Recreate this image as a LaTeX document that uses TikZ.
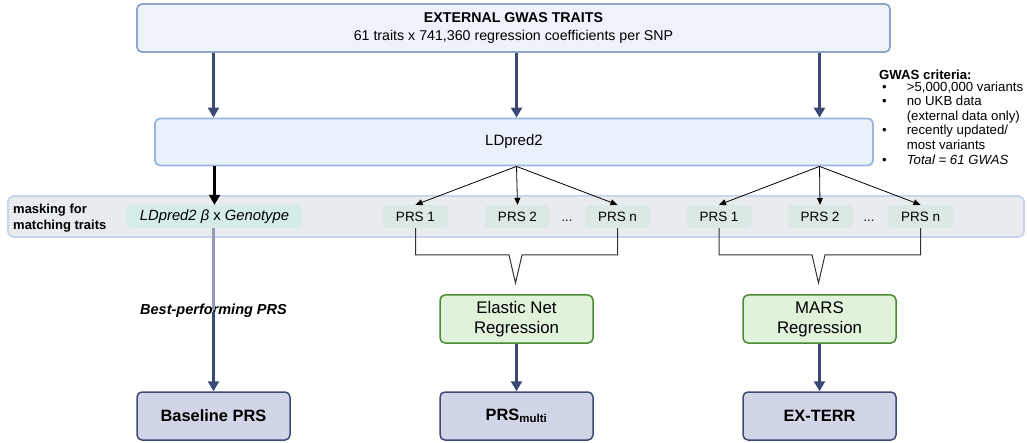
\documentclass[tikz,border=0pt]{standalone}
\usepackage{fontspec}
\setmainfont{Liberation Sans}
\usepackage{tikz}
\usetikzlibrary{arrows.meta,positioning}
\definecolor{topfill}{RGB}{238,243,251}
\definecolor{topline}{RGB}{143,164,204}
\definecolor{ldfill}{RGB}{234,241,251}
\definecolor{ldline}{RGB}{157,180,222}
\definecolor{bandfill}{RGB}{233,236,239}
\definecolor{bandline}{RGB}{200,213,236}
\definecolor{chipld}{RGB}{214,236,232}
\definecolor{chipprs}{RGB}{219,232,228}
\definecolor{regfill}{RGB}{224,242,218}
\definecolor{regline}{RGB}{74,138,53}
\definecolor{outfill}{RGB}{208,214,232}
\definecolor{outline}{RGB}{61,74,115}
\definecolor{navy}{RGB}{59,74,117}
\definecolor{brack}{RGB}{50,50,50}

\begin{document}
\begin{tikzpicture}[
    x=1pt, y=-1pt,
    bigbox/.style={rectangle, draw, rounded corners=5pt, line width=1.8pt, align=center, inner sep=0pt},
    chip/.style={rectangle, rounded corners=4pt, minimum width=65pt, minimum height=23pt, inner sep=0pt, fill=chipprs, font=\fontsize{13.5}{15}\selectfont},
    regbox/.style={rectangle, draw=regline, fill=regfill, rounded corners=5pt, line width=1.5pt, minimum width=153pt, minimum height=48pt, align=center, inner sep=0pt, font=\fontsize{16.8}{20}\selectfont},
    outbox/.style={rectangle, draw=outline, fill=outfill, rounded corners=5pt, line width=1.5pt, minimum width=153pt, minimum height=48pt, inner sep=0pt, font=\fontsize{16.4}{18}\selectfont\bfseries},
    bigarrow/.style={draw=navy, line width=2.4pt, -{Triangle[width=11pt,length=10pt]}},
    thinarrow/.style={draw=black, line width=0.8pt, -{Triangle[width=6pt,length=7pt]}},
    bracket/.style={draw=brack, line width=1pt}
]
\useasboundingbox (0,0) rectangle (1027,443);

% Nodes
\node[bigbox, draw=topline, fill=topfill, minimum width=753pt, minimum height=48pt, font=\fontsize{14.2}{17.5}\selectfont] (top) at (513.5,28)
    {\textbf{EXTERNAL GWAS TRAITS}\\
     61 traits x 741,360 regression coefficients per SNP};
\node[bigbox, draw=ldline, fill=ldfill, minimum width=718pt, minimum height=47pt, font=\fontsize{15}{17}\selectfont] (ldp) at (514,142) {LDpred2};

\node[rectangle, draw=bandline, fill=bandfill, rounded corners=6pt, line width=1.8pt, minimum width=1016pt, minimum height=41pt] (band) at (516,216.5) {};
\node[anchor=west, align=left, inner sep=0pt, font=\fontsize{13}{16}\selectfont\bfseries] (mask) at (13,218) {masking for\\matching traits};
\node[chip, fill=chipld, minimum width=177pt, font=\fontsize{14.8}{16}\selectfont] (ldchip) at (214.5,216.5) {\textit{LDpred2 β} x \textit{Genotype}};

\node[chip] (pa1) at (415.5,216.5) {PRS 1};
\node[chip] (pa2) at (517.5,216.5) {PRS 2};
\node[chip] (pan) at (617.5,216.5) {PRS n};
\node[chip] (pb1) at (719,216.5) {PRS 1};
\node[chip] (pb2) at (820,216.5) {PRS 2};
\node[chip] (pbn) at (920.5,216.5) {PRS n};
\node[font=\fontsize{13}{15}\selectfont, inner sep=0pt] (dotsa) at (567,221) {...};
\node[font=\fontsize{13}{15}\selectfont, inner sep=0pt] (dotsb) at (869,221) {...};

\node[regbox] (elnet) at (516.5,319) {Elastic Net\\Regression};
\node[regbox] (mars) at (819.5,319) {MARS\\Regression};

\node[outbox] (base) at (213.5,416) {Baseline PRS};
\node[outbox] (multi) at (516.5,416) {PRS\textsubscript{multi}};
\node[outbox] (exterr) at (819.5,416) {EX-TERR};

\node[font=\fontsize{14.5}{16}\selectfont\bfseries\itshape, inner sep=0pt] (best) at (213.5,311) {Best-performing PRS};

\node[anchor=north west, align=left, inner sep=0pt, font=\fontsize{13.2}{14.6}\selectfont] (crit) at (879,70)
    {\textbf{GWAS criteria:}\\
     \begin{tabular}{@{\hspace{3pt}}l@{\hspace{20pt}}l@{}}
     \textbullet & >5,000,000 variants\\
     \textbullet & no UKB data\\
                 & (external data only)\\
     \textbullet & recently updated/\\
                 & most variants\\
     \textbullet & \textit{Total = 61 GWAS}
     \end{tabular}};

% Bracket points
\coordinate (bal) at (509,255);
\coordinate (tipa) at (515.5,283);
\coordinate (bar) at (522,255);
\coordinate (bbl) at (812,255);
\coordinate (tipb) at (818.5,283);
\coordinate (bbr) at (825,255);

% Arrows
\draw[bigarrow] (top.south -| base.north) -- (ldp.north -| base.north);
\draw[bigarrow] (top.south -| multi.north) -- (ldp.north -| multi.north);
\draw[bigarrow] (top.south -| exterr.north) -- (ldp.north -| exterr.north);

\draw[thinarrow, line width=2.2pt, -{Triangle[width=11pt,length=10pt]}] (ldp.south -| ldchip.north) -- (ldchip.north);
\draw[thinarrow] (ldp.south -| multi.north) -- (pa1.north);
\draw[thinarrow] (ldp.south -| multi.north) -- (pa2.north);
\draw[thinarrow] (ldp.south -| multi.north) -- (pan.north);
\draw[thinarrow] (ldp.south -| exterr.north) -- (pb1.north);
\draw[thinarrow] (ldp.south -| exterr.north) -- (pb2.north);
\draw[thinarrow] (ldp.south -| exterr.north) -- (pbn.north);

\draw[bracket] (pa1.south) |- (bal) -- (tipa) -- (bar) -| (pan.south);
\draw[bracket] (pb1.south) |- (bbl) -- (tipb) -- (bbr) -| (pbn.south);

\draw[draw=navy!55, line width=2.4pt] (ldchip.south -| base.north) -- ([yshift=-6pt]best.north);
\draw[bigarrow] ([yshift=6pt]best.south) -- (base.north);
\draw[bigarrow] (elnet.south) -- (multi.north);
\draw[bigarrow] (mars.south) -- (exterr.north);

\end{tikzpicture}
\end{document}
